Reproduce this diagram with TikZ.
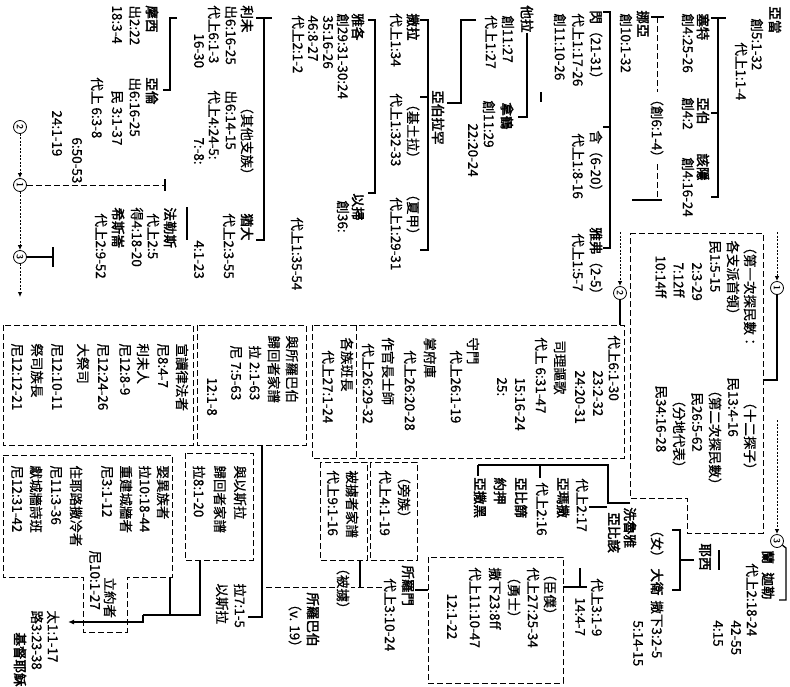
\documentclass[tikz,border=0pt]{standalone}
\usepackage{fontspec}
\newfontfamily\cjk[UprightFeatures={FakeBold=0.6}, AutoFakeBold=2.5]{Noto Sans CJK TC}
\usetikzlibrary{arrows.meta}
\tikzset{
  every picture/.style={line width=0.9pt},
  tx/.style={rotate=-90, anchor=west, inner sep=0pt, font=\cjk\fontsize{13.5}{15}\selectfont},
  nm/.style={tx, font=\cjk\bfseries\fontsize{13.5}{15}\selectfont},
  box/.style={dash pattern=on 6pt off 3pt, line width=1pt},
  brk/.style={line width=1.3pt},
  thk/.style={line width=2.4pt},
  numc/.style={circle, draw, line width=0.8pt, inner sep=0pt, minimum size=13pt, rotate=-90, font=\sffamily\bfseries\small},
  darr/.style={dash pattern=on 2pt off 1.5pt, line width=1pt, -{Latex[length=5pt,width=4.5pt]}},
}

\begin{document}
\begin{tikzpicture}[x=1pt,y=-1pt]
  \fill[white] (0,0) rectangle (790,686);
  \useasboundingbox (0,0) rectangle (790,686);
  % Adam to Noah
  \node[nm] (adam) at (775,6) {亞當};
  \node[tx] (adamA) at (757,18) {創5:1-32};
  \node[tx] (adamB) at (741,42) {代上1:1-4};
  \draw[brk] (711,18) -- (726,18);
  \draw[brk] (718,18) -- (718,197) -- (711,197);
  \draw[brk] (711,113) -- (718,113);
  \node[nm] (seth) at (703,13) {塞特};
  \node[tx] (sethA) at (688,13) {創4:25-26};
  \node[nm] (abel) at (703,97) {亞伯};
  \node[tx] (abelA) at (688,97) {創4:2};
  \node[nm] (cain) at (703,153) {該隱};
  \node[tx] (cainA) at (688,157) {創4:16-24};
  \node[tx] (gen6) at (657,92) {（創6:1-4）};
  \draw[box] (657,17) -- (gen6.west);
  \draw[box] (gen6.east) -- (657,200);
  \draw[brk] (651,17) -- (664,17);
  \draw[brk] (632,200) -- (662,200);
  \node[nm] (noah) at (643,10) {挪亞};
  \node[tx] (noahA) at (626,13) {創10:1-32};
  \draw[brk] (603,12) -- (610,12) -- (610,248) -- (603,248);
  \draw[brk] (603,127) -- (610,127);
  \node[tx] (shem) at (596,10) {\textbf{閃}（21-31）};
  \node[tx] (ham) at (596,130) {含（6-20）};
  \node[tx] (japh) at (596,227) {\textbf{雅弗}（2-5）};
  \node[tx] (shemA) at (578,13) {代上1:17-26};
  \node[tx] (hamA) at (578,133) {代上1:8-16};
  \node[tx] (japhA) at (578,233) {代上1:5-7};
  \node[tx] (shemB) at (560,13) {創11:10-26};
  \draw[brk] (541,92) -- (541,102);
  % Terah and Abraham
  \node[nm] (terah) at (527,5) {他拉};
  \draw[brk] (terah.east) -- (527,117) -- (518,117);
  \node[tx] (terahA) at (508,15) {創11:27};
  \node[tx] (terahB) at (491,15) {代上1:27};
  \draw[brk] (476,20) -- (461,20) -- (461,103) -- (447,103);
  \node[nm] (nahor) at (507,102) {拿鶴};
  \node[tx] (nahorA) at (489,100) {創11:29};
  \node[tx] (nahorB) at (473,123) {22:20-24};
  \node[nm] (abram) at (438,90) {亞伯拉罕};
  \draw[brk] (420,20) -- (428,20) -- (428,250) -- (420,250);
  \draw[brk] (420,97) -- (428,97);
  \node[nm] (sarah) at (413,13) {撒拉};
  \node[tx] (sarahA) at (396,13) {代上1:34};
  \node[tx] (ketu) at (413,97) {（基土拉）};
  \node[tx] (ketuA) at (396,93) {代上1:32-33};
  \node[tx] (hagar) at (413,187) {（夏甲）};
  \node[tx] (hagarA) at (396,197) {代上1:29-31};
  \draw[brk] (368,20) -- (375,20) -- (375,193) -- (368,193);
  \node[nm] (jacob) at (358,13) {雅各};
  \node[tx] (jacobA) at (343,13) {創29:31-30:24};
  \node[tx] (jacobB) at (328,15) {35:16-26};
  \node[tx] (jacobC) at (313,15) {46:8-27};
  \node[tx] (jacobD) at (298,15) {代上2:1-2};
  \node[nm] (esau) at (358,193) {以掃};
  \node[tx] (esauA) at (343,200) {創36:};
  \node[tx] (esauB) at (297,217) {代上1:35-54};
  % sons of Jacob
  \draw[brk] (256,18) -- (272,18);
  \draw[brk] (264,18) -- (264,240) -- (256,240);
  \node[nm] (levi) at (247,5) {利未};
  \node[tx] (others) at (247,100) {（其他支族）};
  \node[nm] (judah) at (247,213) {猶大};
  \node[tx] (leviA) at (231,5) {出6:16-25};
  \node[tx] (othersA) at (231,90) {出6:14-15};
  \node[tx] (judahA) at (229,213) {代上2:3-55};
  \node[tx] (leviB) at (214,5) {代上6:1-3};
  \node[tx] (othersB) at (214,90) {代上4:24-5:};
  \node[tx] (leviC) at (199,33) {16-30};
  \node[tx] (othersC) at (199,137) {7:-8:};
  \node[tx] (judahB) at (199,240) {4:1-23};
  \draw[thk] (187,207) -- (187,240);
  \draw[brk] (177,18) -- (170,18) -- (170,90) -- (163,90);
  \node[nm] (moses) at (152,5) {摩西};
  \node[nm] (aaron) at (152,77) {亞倫};
  \node[tx] (mosesA) at (135,5) {出2:22};
  \node[tx] (aaronA) at (135,77) {出6:16-25};
  \node[tx] (mosesB) at (117,5) {18:3-4};
  \node[tx] (aaronB) at (117,90) {民 3:1-37};
  \node[tx] (aaronC) at (97,77) {代上 6:3-8};
  \node[tx] (aaronD) at (77,137) {6:50-53};
  \node[tx] (aaronE) at (57,110) {24:1-19};
  \node[nm] (perez) at (170,207) {法勒斯};
  \node[tx] (perezA) at (153,213) {代上2:5};
  \node[tx] (perezB) at (137,207) {得4:18-20};
  \node[nm] (hezron) at (118,207) {希斯崙};
  \node[tx] (hezronA) at (101,213) {代上2:9-52};
  % jump marks
  \node[numc] (m2) at (20,127) {2};
  \node[numc] (m1) at (20,185) {1};
  \node[numc] (m3) at (20,257) {3};
  \coordinate (m4) at (20,297);
  \draw[darr] (m2) -- (m1);
  \draw[darr] (m1) -- (m3);
  \draw[darr] (m3) -- (m4);
  \draw[box] (m1) -- (165,185);
  \draw[brk] (165,179) -- (165,191);
  \draw[brk] (m3) -- (53,257);
  \draw[brk] (53,247) -- (53,267);
  \node[numc] (r1) at (777,288) {1};
  \draw[darr] (777,232) -- (r1);
  \draw[brk] (r1) -- (777,380) -- (763,380);
  \node[numc] (r2) at (620,293) {2};
  \draw[darr] (620,232) -- (r2);
  \draw[brk] (r2) -- (620,325);
  \node[numc] (r3) at (777,541) {3};
  \draw[darr] (777,420) -- (r3);
  \draw[brk] (r3) -- (786,548) -- (786,600) -- (779,600);
  % census
  \draw[box] (630,233) -- (763,233) -- (763,533) -- (687,533) -- (687,498) -- (630,498) -- cycle;
  \node[tx] (cen1) at (750,240) {（第一次探民數：};
  \node[tx] (cen2) at (733,240) {各支派首領）};
  \node[tx] (cen3) at (715,240) {民1:5-15};
  \node[tx] (cen4) at (697,262) {2:3-29};
  \node[tx] (cen5) at (679,262) {7:12ff};
  \node[tx] (cen6) at (661,255) {10:14ff};
  \node[tx] (cen7) at (750,395) {（十二探子）};
  \node[tx] (cen8) at (733,377) {民13:4-16};
  \node[tx] (cen9) at (715,383) {（第二次探民數）};
  \node[tx] (cen10) at (697,392) {民26:5-62};
  \node[tx] (cen11) at (679,393) {（分地代表）};
  \node[tx] (cen12) at (661,385) {民34:16-28};
  % Levite offices
  \draw[box] (312,325) rectangle (624,458);
  \draw[box] (356,325) -- (356,458);
  \foreach \x/\y/\t [count=\i] in {614/335/代上6:1-30, 598/370/23:2-32, 580/370/24:20-31,
      560/340/司理謳歌, 541/337/代上 6:31-47, 520/377/15:16-24, 502/377/25:,
      473/337/守門, 456/350/代上26:1-19, 430/337/掌府庫, 410/350/代上26:20-28,
      388/337/作官長士師, 368/343/代上26:29-32, 347/337/各族班長, 328/350/代上27:1-24}
    \node[tx] (lev\i) at (\x,\y) {\t};
  % Caleb, Jesse, David
  \node[nm] (ram) at (768,550) {蘭};
  \node[nm] (caleb) at (768,572) {迦勒};
  \node[tx] (calebA) at (752,563) {代上2:18-24};
  \node[tx] (calebB) at (736,620) {42-55};
  \node[tx] (calebC) at (718,620) {4:15};
  \node[nm] (jesse) at (705,543) {耶西};
  \draw[thk] (719,550) -- (719,570);
  \draw[brk] (672,530) -- (680,530) -- (680,590) -- (672,590);
  \draw[brk] (680,560) -- (694,560);
  \node[tx] (fem) at (657,523) {（女）};
  \node[nm] (david) at (657,568) {大衛};
  \node[tx] (davidA) at (657,600) {撒下3:2-5};
  \node[tx] (davidB) at (638,620) {5:14-15};
  \node[tx] (davidC) at (597,578) {代上3:1-9};
  \node[tx] (davidD) at (580,597) {14:4-7};
  \node[nm] (zeru) at (630,507) {洗魯雅};
  \node[nm] (abig) at (614,512) {亞比該};
  \draw[brk] (630,503) -- (608,503) -- (608,465) -- (478,465);
  \draw[brk] (540,465) -- (540,478);
  \draw[brk] (478,465) -- (478,476);
  \draw[brk] (607,507) -- (589,507);
  \node[tx] (abigA) at (582,478) {代上2:17};
  \node[nm] (amasa) at (563,477) {亞瑪撒};
  \node[tx] (zeruA) at (542,482) {代上2:16};
  \node[nm] (abishai) at (521,477) {亞比篩};
  \node[nm] (joab) at (500,477) {約押};
  \node[nm] (asahel) at (480,477) {亞撒黑};
  % officials and mighty men
  \draw[box] (428,557) rectangle (563,683);
  \node[tx] (offi) at (550,567) {（臣僕）};
  \node[tx] (offiA) at (533,567) {代上27:25-34};
  \node[tx] (mighty) at (514,570) {（勇士）};
  \node[tx] (mightyA) at (495,567) {撒下23:8ff};
  \node[tx] (mightyB) at (475,567) {代上11:10-47};
  \node[tx] (mightyC) at (452,593) {12:1-22};
  \draw[thk] (580,568) -- (580,587);
  \draw[thk] (587,587) -- (563,587);
  \draw[thk] (428,590) -- (415,590);
  % Solomon to the exile
  \node[nm] (solomon) at (408,565) {所羅門};
  \node[tx] (solomonA) at (390,578) {代上3:10-24};
  \draw[box] (370,462) rectangle (417,560);
  \node[tx] (clan) at (404,470) {（旁族）};
  \node[tx] (clanA) at (385,470) {代上4:1-19};
  \draw[box] (320,462) rectangle (367,560);
  \node[tx] (exileBox) at (352,470) {被擄者家譜};
  \node[tx] (exileBoxA) at (333,470) {代上9:1-16};
  \node[tx] (exile) at (343,561) {（被擄）};
  \draw[brk] (360,560) -- (360,587);
  \draw[box] (382,587) -- (351,587);
  \draw[box] (335,587) -- (262,587);
  \node[nm] (zerub) at (313,592) {所羅巴伯};
  \node[tx] (zerubA) at (295,597) {（v. 19）};
  % returns
  \draw[box] (197,325) rectangle (306,445);
  \node[tx] (ret1) at (292,335) {與所羅巴伯};
  \node[tx] (ret2) at (274,335) {歸回者家譜};
  \node[tx] (ret3) at (255,345) {拉 2:1-63};
  \node[tx] (ret4) at (236,345) {尼 7:5-63};
  \node[tx] (ret5) at (212,377) {12:1-8};
  \draw[brk] (262,445) -- (262,617) -- (248,617);
  \draw[box] (185,453) rectangle (253,560);
  \node[tx] (ezr1) at (240,465) {與以斯拉};
  \node[tx] (ezr2) at (220,465) {歸回者家譜};
  \node[tx] (ezr3) at (199,465) {拉8:1-20};
  \node[tx] (ezraA) at (240,583) {拉7:1-5};
  \node[tx] (ezra) at (222,583) {以斯拉};
  % Nehemiah lists
  \draw[box] (3,325) rectangle (193,445);
  \foreach \x/\t [count=\i] in {182/宣讀律法者, 163/尼8:4-7, 143/利未人, 125/尼12:8-9,
      103/尼12:24-26, 83/大祭司, 57/尼12:10-11, 37/祭司族長, 17/尼12:12-21}
    \node[tx] (law\i) at (\x,343) {\t};
  \draw[box] (3,455) -- (172,455) -- (172,577) -- (127,577) -- (127,632) -- (83,632) -- (83,577) -- (3,577) -- cycle;
  \foreach \x/\t [count=\i] in {163/娶異族者, 145/拉10:18-44, 126/重建城牆者, 107/尼3:1-12,
      76/住耶路撒冷者, 56/尼11:3-36, 36/獻城牆詩班, 17/尼12:31-42}
    \node[tx] (neh\i) at (\x,465) {\t};
  \node[tx] (cov) at (110,577) {立約者};
  \node[tx] (covA) at (95,550) {尼10:1-27};
  % to Jesus
  \draw[brk] (200,560) -- (200,615) -- (143,615);
  \draw[brk] (170,577) -- (170,615);
  \coordinate (jtip) at (68,622);
  \draw[brk, -{Latex[length=6pt,width=5pt]}] (143,615) -- (143,622) -- (jtip);
  \node[tx] (mt) at (53,610) {太1:1-17};
  \node[tx] (lk) at (37,610) {路3:23-38};
  \node[nm] (jesus) at (20,632) {基督耶穌};
\end{tikzpicture}
\end{document}
